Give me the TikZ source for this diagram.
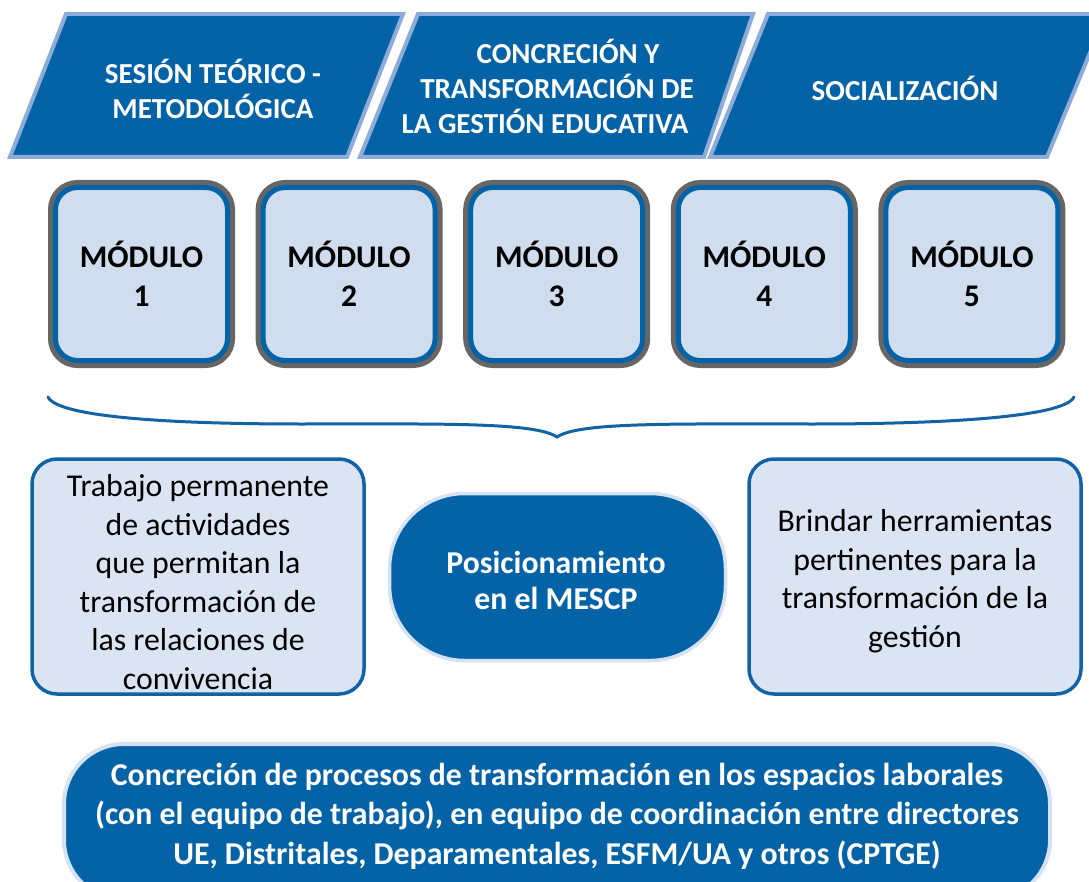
\documentclass[tikz,border=0pt]{standalone}
\usepackage{fontspec}
\setmainfont{Carlito}
\definecolor{dblue}{RGB}{4,99,167}
\definecolor{lblue}{RGB}{143,172,216}
\definecolor{mblue}{RGB}{4,99,167}
\definecolor{mgray}{RGB}{102,102,102}
\definecolor{mfill}{RGB}{207,221,238}
\definecolor{tfill}{RGB}{219,228,243}
\definecolor{tblue}{RGB}{18,98,166}
\definecolor{sborder}{RGB}{214,225,242}
\tikzset{
  head/.style={fill=dblue, draw=lblue, line width=4, line join=miter},
  headtext/.style={text=white, font=\bfseries\fontsize{29}{35}\selectfont, align=center, inner sep=0},
  module/.style={rounded corners=22, minimum width=172, minimum height=173, fill=mfill, draw=mblue, line width=5,
     preaction={draw=mgray, line width=15}, font=\bfseries\fontsize{31.5}{39}\selectfont, align=center, inner sep=0},
  tbox/.style={rounded corners=25, minimum width=332, minimum height=235, fill=tfill, draw=tblue, line width=3.5, inner sep=0},
  tboxtext/.style={align=center, font=\fontsize{31.8}{38.5}\selectfont, inner sep=0},
  stad/.style={rounded corners=75, minimum width=336, minimum height=167, fill=dblue, draw=sborder, line width=3.5, inner sep=0},
  stadtext/.style={text=white, font=\bfseries\fontsize{31.8}{36}\selectfont, align=center, inner sep=0},
  bottombox/.style={rounded corners=60, minimum width=986, minimum height=156, fill=dblue, draw=sborder, line width=4, inner sep=0},
  bottomtext/.style={text=white, font=\bfseries\fontsize{31.8}{39.5}\selectfont, align=center, inner sep=0},
  bracestyle/.style={draw=tblue, line width=3, line cap=round}
}
\begin{document}
\begin{tikzpicture}[x=1pt,y=-1pt]
\useasboundingbox (0,0) rectangle (1089,882);
\clip (0,0) rectangle (1089,882);
% header parallelograms
\draw[head] (66,14) -- (403,14) -- (347,157) -- (10,157) -- cycle;
\draw[head] (418,14) -- (753,14) -- (704,157) -- (360,157) -- cycle;
\draw[head] (768,14) -- (1106,14) -- (1047,157) -- (710,157) -- cycle;
\node[headtext] (h1) at (213,89) {SESIÓN TEÓRICO -\\METODOLÓGICA};
\node[headtext] (h2) at (557,86) {\hspace*{22pt}CONCRECIÓN Y\\TRANSFORMACIÓN DE\\LA GESTIÓN EDUCATIVA\hspace*{24pt}};
\node[headtext] (h3) at (905,88) {SOCIALIZACIÓN};
% modules
\node[module] (m1) at (141.5,274) {MÓDULO\\1};
\node[module] (m2) at (349.1,274) {MÓDULO\\2};
\node[module] (m3) at (556.7,274) {MÓDULO\\3};
\node[module] (m4) at (764.3,274) {MÓDULO\\4};
\node[module] (m5) at (971.9,274) {MÓDULO\\5};
% brace
\coordinate (bl) at (48,397);
\coordinate (bt) at (557,437);
\coordinate (br) at (1074,397);
\draw[bracestyle] (bl) .. controls (58,418) and (180,424) .. (300,424)
   .. controls (440,424) and (535,422) .. (bt)
   .. controls (579,422) and (674,424) .. (814,424)
   .. controls (934,424) and (1064,418) .. (br);
% middle row
\node[tbox] (left) at (198,576.5) {};
\node[tboxtext] (lefttext) at (198,582) {Trabajo permanente\\de actividades\\que permitan la\\transformación de\\las relaciones de\\convivencia};
\node[stad] (mid) at (557.5,577) {};
\node[stadtext] (midtext) at (556,580) {Posicionamiento\\en el MESCP};
\node[tbox] (right) at (915,576.5) {};
\node[tboxtext] (righttext) at (915,581) {Brindar herramientas\\pertinentes para la\\transformación de la\\gestión};
% bottom
\node[bottombox] (bottom) at (557,822) {};
\node[bottomtext] (btext) at (557,816) {Concreción de procesos de transformación en los espacios laborales\\(con el equipo de trabajo), en equipo de coordinación entre directores\\UE, Distritales, Deparamentales, ESFM/UA y otros (CPTGE)};
\end{tikzpicture}
\end{document}
